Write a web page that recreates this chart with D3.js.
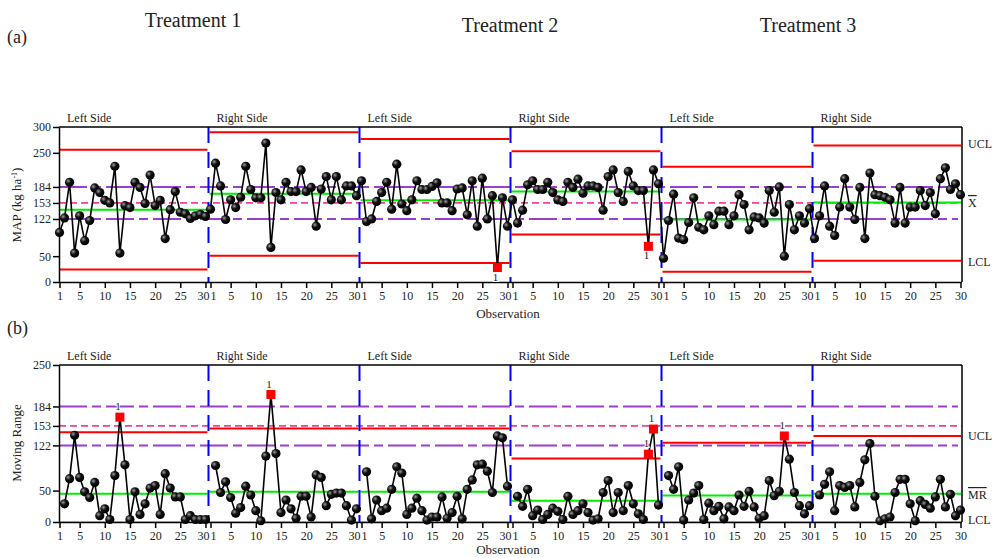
<!DOCTYPE html>
<html>
<head>
<meta charset="utf-8">
<script src="https://cdn.jsdelivr.net/npm/d3@7"></script>
<style>
  body { margin: 0; background: #fff; }
  text { font-family: "Liberation Serif", "Times New Roman", serif; fill: #222; }
</style>
</head>
<body>
<div id="chart"></div>
<script>
// ---------- data ----------
var treatments = ["Treatment 1", "Treatment 2", "Treatment 3"];
var sides = ["Left Side", "Right Side", "Left Side", "Right Side", "Left Side", "Right Side"];
var obsTicks = [1, 5, 10, 15, 20, 25, 30];
var mapTicks = [0, 50, 122, 153, 184, 250, 300];
var mrTicks = [0, 50, 122, 153, 184, 250];
var purpleRefs = [184, 122];
var pinkRef = 153;

// (a) MAP, observations 1..30 per side
var map_T1L = [96, 124, 193, 56, 128, 80, 119, 182, 173, 158, 153, 224, 56, 148, 144, 193, 183, 152, 207, 148, 158, 84, 140, 175, 135, 132, 123, 128, 131, 127];
var map_T1R = [141, 230, 186, 121, 159, 144, 164, 224, 179, 163, 163, 269, 67, 173, 159, 193, 175, 175, 217, 175, 183, 108, 180, 204, 159, 204, 159, 186, 186, 167];
var map_T2L = [196, 117, 122, 156, 173, 193, 141, 228, 151, 138, 159, 196, 179, 179, 185, 192, 153, 153, 138, 180, 182, 130, 196, 108, 201, 122, 167, 28, 163, 108];
var map_T2R = [159, 114, 139, 188, 196, 179, 179, 193, 173, 159, 156, 193, 183, 199, 172, 186, 186, 183, 139, 204, 217, 173, 156, 214, 186, 177, 177, 69, 217, 190];
var map_T3L = [46, 119, 170, 85, 82, 115, 163, 106, 101, 128, 111, 137, 137, 111, 128, 169, 150, 101, 126, 124, 114, 177, 135, 184, 50, 150, 101, 128, 114, 142];
var map_T3R = [84, 128, 186, 108, 90, 145, 200, 145, 121, 183, 84, 211, 169, 167, 164, 159, 114, 183, 114, 145, 145, 177, 148, 173, 132, 200, 221, 179, 190, 169];

// (b) moving range, observations 2..30 per side
var mr_T1L = [29, 69, 138, 71, 48, 39, 63, 10, 21, 4, 74, 167, 91, 4, 48, 12, 29, 54, 58, 12, 77, 54, 40, 40, 4, 10, 4, 4, 4];
var mr_T1R = [90, 47, 64, 39, 14, 23, 57, 43, 18, 2, 105, 203, 109, 15, 35, 21, 6, 41, 41, 8, 75, 71, 26, 44, 46, 46, 26, 3, 21];
var mr_T2L = [80, 5, 35, 18, 22, 52, 88, 78, 12, 22, 38, 18, 3, 8, 8, 40, 6, 15, 41, 5, 52, 67, 91, 92, 81, 47, 137, 134, 57];
var mr_T2R = [41, 25, 52, 10, 19, 4, 12, 22, 17, 4, 41, 12, 18, 29, 15, 3, 5, 47, 66, 15, 47, 18, 58, 29, 13, 4, 108, 148, 27];
var mr_T3L = [74, 52, 88, 3, 35, 46, 58, 4, 30, 18, 25, 5, 24, 18, 43, 25, 49, 24, 6, 10, 66, 42, 49, 137, 100, 47, 26, 13, 26];
var mr_T3R = [43, 60, 80, 18, 58, 55, 58, 24, 63, 99, 125, 41, 2, 5, 8, 47, 68, 68, 29, 2, 34, 28, 22, 40, 68, 24, 44, 10, 19];

// control limits per side
var uclMap = [256, 290, 277, 253, 223, 264];
var clMap  = [140, 171, 158, 175, 121, 154];
var lclMap = [24, 51, 37, 92, 20, 41];
var uclMr  = [143, 149, 149, 101, 126, 137];
var clMr   = [45, 48, 48, 34, 42, 45];
var lclMr  = [0, 0, 0, 0, 0, 0];

var mapSeries = [map_T1L, map_T1R, map_T2L, map_T2R, map_T3L, map_T3R];
var mrSeries = [mr_T1L, mr_T1R, mr_T2L, mr_T2R, mr_T3L, mr_T3R];

// ---------- layout ----------
var W = 993, H = 558;
var left = 59, right = 962;

var svg = d3.select("#chart").append("svg")
    .attr("width", W)
    .attr("height", H);

var defs = svg.append("defs");
var grad = defs.append("radialGradient")
    .attr("id", "ball").attr("cx", "35%").attr("cy", "35%").attr("r", "65%");
grad.append("stop").attr("offset", "0%").attr("stop-color", "#9a9a9a");
grad.append("stop").attr("offset", "45%").attr("stop-color", "#111");
grad.append("stop").attr("offset", "100%").attr("stop-color", "#000");

// one continuous index across the six sides
var x = d3.scaleLinear().domain([0, 179]).range([59.5, 960.5]);
var gIndex = function(seg, obs) { return seg * 30 + obs - 1; };
var segStart = function(seg) { return seg == 0 ? left : x(seg * 30 - 0.4); };
var segEnd = function(seg) { return seg == 5 ? right : x((seg + 1) * 30 - 0.4); };

var xTickVals = [];
for (var s = 0; s < 6; s++) {
  obsTicks.forEach(function(t) { xTickVals.push(gIndex(s, t)); });
}

// titles
treatments.forEach(function(t, i) {
  svg.append("text")
    .attr("x", [193, 510, 808][i])
    .attr("y", [27, 32, 32][i])
    .attr("text-anchor", "middle")
    .style("font-size", "20px")
    .text(t);
});
svg.append("text").attr("x", 7).attr("y", 43).style("font-size", "18px").text("(a)");
svg.append("text").attr("x", 7).attr("y", 334).style("font-size", "18px").text("(b)");

function drawPanel(opt) {
  var y = d3.scaleLinear().domain(opt.domain).range([opt.bottom, opt.top]);
  var g = svg.append("g");

  // side labels
  sides.forEach(function(sd, i) {
    g.append("text")
      .attr("x", segStart(i) + 8)
      .attr("y", opt.top - 5)
      .style("font-size", "12px")
      .text(sd);
  });

  // reference lines across whole panel
  purpleRefs.forEach(function(v) {
    g.append("line")
      .attr("x1", left).attr("x2", right - 4)
      .attr("y1", y(v)).attr("y2", y(v))
      .attr("stroke", "#9b3fd0").attr("stroke-width", 2)
      .attr("stroke-dasharray", "28,5,9,5");
  });
  g.append("line")
    .attr("x1", left).attr("x2", right)
    .attr("y1", y(pinkRef)).attr("y2", y(pinkRef))
    .attr("stroke", "#f0409a").attr("stroke-width", 1.8)
    .attr("stroke-dasharray", "7,4");

  // control limits per side
  for (var s = 0; s < 6; s++) {
    var x1 = segStart(s) + 1, x2 = segEnd(s) - 1;
    [opt.ucl[s], opt.lcl[s]].forEach(function(v) {
      g.append("line")
        .attr("x1", x1).attr("x2", x2)
        .attr("y1", y(v)).attr("y2", y(v))
        .attr("stroke", v == 0 ? "#f6b3b3" : "#ff0000")
        .attr("stroke-width", 2);
    });
    g.append("line")
      .attr("x1", x1).attr("x2", x2)
      .attr("y1", y(opt.cl[s])).attr("y2", y(opt.cl[s]))
      .attr("stroke", "#00ee00").attr("stroke-width", 2);
  }

  // side boundaries
  for (var b = 1; b < 6; b++) {
    g.append("line")
      .attr("x1", segStart(b)).attr("x2", segStart(b))
      .attr("y1", opt.top).attr("y2", opt.bottom)
      .attr("stroke", "#0000ff").attr("stroke-width", 2)
      .attr("stroke-dasharray", "16,9");
  }

  // frame
  g.append("line").attr("x1", left).attr("x2", right).attr("y1", opt.top).attr("y2", opt.top)
    .attr("stroke", "#000").attr("stroke-width", 1.5);
  g.append("line").attr("x1", right).attr("x2", right).attr("y1", opt.top).attr("y2", opt.bottom)
    .attr("stroke", "#000").attr("stroke-width", 1.5);

  // axes
  var ya = g.append("g")
    .attr("transform", "translate(" + left + ",0)")
    .call(d3.axisLeft(y).tickValues(opt.ticks).tickSize(6).tickSizeOuter(0));
  var xa = g.append("g")
    .attr("transform", "translate(0," + opt.bottom + ")")
    .call(d3.axisBottom(x).tickValues(xTickVals).tickSize(6).tickSizeOuter(0)
      .tickFormat(function(d) { return (d % 30) + 1; }));
  xa.select(".domain").attr("d", "M" + left + ",0.5H" + right);
  [ya, xa].forEach(function(a) {
    a.selectAll("path, line").attr("stroke", "#000").attr("stroke-width", 1.5);
    a.selectAll("text").style("font-family", "Liberation Serif, serif")
      .style("font-size", "12px").attr("fill", "#222");
  });
  ya.selectAll("text").attr("x", -8);
  xa.selectAll("text").attr("y", 9)
    .attr("dx", function(d) {
      var o = d % 30;
      if (o == 29 && d < 179) return -2.5;
      if (o == 0 && d > 0) return 2.5;
      return 0;
    });

  g.append("text")
    .attr("x", 508).attr("y", opt.bottom + opt.obsDy)
    .attr("text-anchor", "middle")
    .style("font-size", "13px")
    .text("Observation");

  // points
  var pts = [];
  opt.series.forEach(function(arr, s) {
    var seg = [];
    arr.forEach(function(v, i) {
      var p = { g: gIndex(s, i + opt.first), v: v,
                out: v > opt.ucl[s] || v < opt.lcl[s] };
      seg.push(p);
      pts.push(p);
    });
    if (!opt.continuous) {
      g.append("path").datum(seg)
        .attr("fill", "none").attr("stroke", "#000").attr("stroke-width", 1.6)
        .attr("d", d3.line().x(function(d) { return x(d.g); }).y(function(d) { return y(d.v); }));
    }
  });
  if (opt.continuous) {
    g.append("path").datum(pts)
      .attr("fill", "none").attr("stroke", "#000").attr("stroke-width", 1.6)
      .attr("d", d3.line().x(function(d) { return x(d.g); }).y(function(d) { return y(d.v); }));
  }

  g.selectAll("circle.pt").data(pts.filter(function(d) { return !d.out; }))
    .enter().append("circle")
    .attr("class", "pt")
    .attr("cx", function(d) { return x(d.g); })
    .attr("cy", function(d) { return y(d.v); })
    .attr("r", 4.6)
    .attr("fill", "url(#ball)");

  var outs = pts.filter(function(d) { return d.out; });
  g.selectAll("rect.out").data(outs)
    .enter().append("rect")
    .attr("class", "out")
    .attr("x", function(d) { return x(d.g) - 4.5; })
    .attr("y", function(d) { return y(d.v) - 4.5; })
    .attr("width", 9).attr("height", 9)
    .attr("fill", "#ff0000");
  g.selectAll("text.flag").data(outs)
    .enter().append("text")
    .attr("class", "flag")
    .attr("x", function(d) { return x(d.g) - 2; })
    .attr("y", function(d) { return y(d.v) + opt.flagDy; })
    .attr("text-anchor", "middle")
    .style("font-size", "11px")
    .style("paint-order", "stroke")
    .style("stroke", "#fff").style("stroke-width", "2px")
    .text("1");

  return y;
}

var yTop = drawPanel({
  domain: [0, 300], top: 127, bottom: 282, ticks: mapTicks,
  series: mapSeries, first: 1, continuous: true, obsDy: 36,
  ucl: uclMap, cl: clMap, lcl: lclMap, flagDy: 13
});
var yBot = drawPanel({
  domain: [0, 250], top: 365, bottom: 522, ticks: mrTicks,
  series: mrSeries, first: 2, continuous: false, obsDy: 32,
  ucl: uclMr, cl: clMr, lcl: lclMr, flagDy: -7
});

// axis titles
svg.append("text")
  .attr("transform", "translate(21,205) rotate(-90)")
  .attr("text-anchor", "middle")
  .style("font-size", "13px")
  .text("MAP (kg ha")
  .append("tspan").attr("baseline-shift", "super").style("font-size", "8px").text("-1")
  .select(function() { return this.parentNode; })
  .append("tspan").text(")");
svg.append("text")
  .attr("transform", "translate(21,443) rotate(-90)")
  .attr("text-anchor", "middle")
  .style("font-size", "13px")
  .text("Moving Range");

// limit labels on the right
var rlab = [
  { t: "UCL", y: 148 }, { t: "X", y: 207, bar: true }, { t: "LCL", y: 266 },
  { t: "UCL", y: 440 }, { t: "MR", y: 499, bar: true }, { t: "LCL", y: 524 }
];
rlab.forEach(function(d) {
  svg.append("text")
    .attr("x", 968).attr("y", d.y)
    .style("font-size", "12px")
    .style("text-decoration", d.bar ? "overline" : null)
    .text(d.t);
});
</script>
</body>
</html>
